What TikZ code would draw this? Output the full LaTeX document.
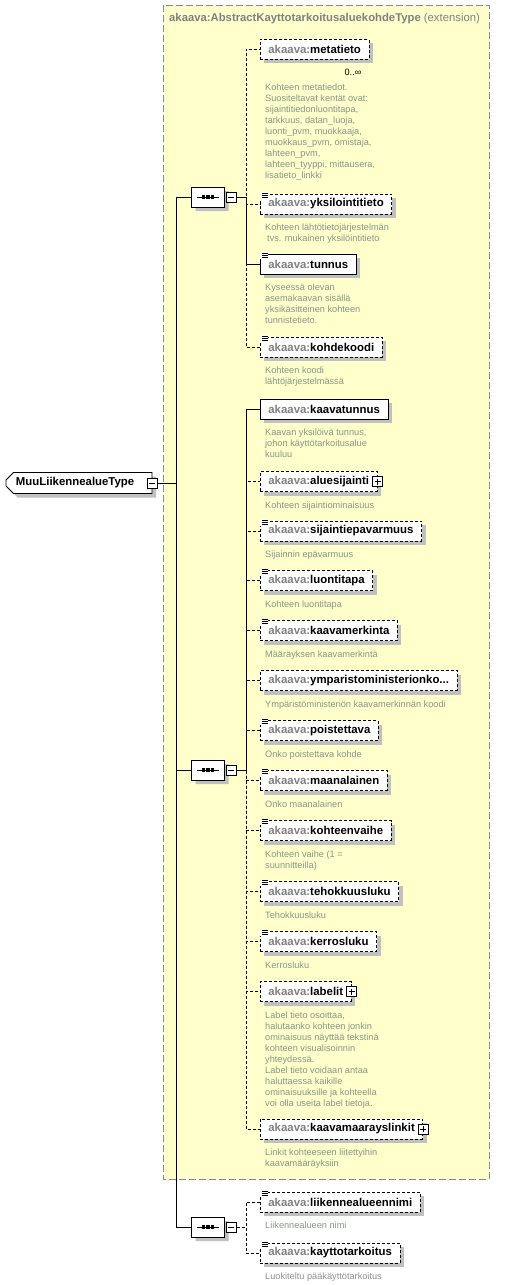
\documentclass[tikz,border=0pt]{standalone}
\usepackage{fontspec}
\setmainfont{Liberation Sans}
\usetikzlibrary{shadows,shapes.misc}
\definecolor{groupfill}{HTML}{FFFFCC}
\definecolor{groupline}{HTML}{8A8A8A}
\definecolor{nsgray}{HTML}{808080}
\definecolor{docgray}{HTML}{869686}
\definecolor{shadowgray}{HTML}{C0C0C0}
\newcommand\akns{\textcolor{nsgray}{akaava:}}
\newcommand\elemfont{\fontsize{11.4}{13}\selectfont\bfseries}
\newcommand\docfont{\fontsize{9.2}{11}\selectfont}
\begin{document}
\begin{tikzpicture}[x=1pt, y=-1pt,
  elem/.style={draw, line width=0.8pt, fill=white, minimum height=20, inner xsep=8, inner ysep=0,
    anchor=west, font=\elemfont,
    drop shadow={fill=shadowgray, opacity=1, shadow xshift=4pt, shadow yshift=-4pt}},
  optelem/.style={elem, dash pattern=on 3pt off 2pt},
  doc/.style={anchor=north west, inner sep=0, align=left, font=\docfont, text=docgray},
  conn/.style={draw, line width=0.8pt},
  optconn/.style={conn, dash pattern=on 3pt off 2pt},
  seqbox/.style={chamfered rectangle, chamfered rectangle xsep=6pt,
    draw, line width=0.8pt, fill=white, minimum width=33, minimum height=20, inner sep=0,
    drop shadow={fill=shadowgray, opacity=1, shadow xshift=4pt, shadow yshift=-4pt}},
  rootbox/.style={chamfered rectangle, chamfered rectangle corners={north west,south west},
    chamfered rectangle xsep=4pt, draw, line width=0.8pt, fill=white, text width=126,
    align=left, minimum height=21, inner xsep=6, inner ysep=0, font=\elemfont,
    drop shadow={fill=shadowgray, opacity=1, shadow xshift=4pt, shadow yshift=-4pt}},
  pmbox/.style={draw, line width=0.8pt, fill=white, minimum size=10, inner sep=0},
  minusbox/.style={pmbox, path picture={
    \draw ([xshift=2pt]path picture bounding box.west) -- ([xshift=-2pt]path picture bounding box.east);}},
  plusbox/.style={pmbox, path picture={
    \draw ([xshift=2pt]path picture bounding box.west) -- ([xshift=-2pt]path picture bounding box.east);
    \draw ([yshift=-2pt]path picture bounding box.north) -- ([yshift=2pt]path picture bounding box.south);}},
  docmark/.pic={
    \fill[white] (0.4,-1.5) rectangle (8,5);
    \draw[line width=0.6pt] (1.5,-0.5) -- (7.5,-0.5) (1.5,1.5) -- (7.5,1.5) (1.5,3.5) -- (7.5,3.5);},
  seqdots/.pic={
    \draw[line width=0.8pt] (-11,0) -- (11,0);
    \foreach \dx in {-4.5,0,4.5} \fill (\dx-1.6,-1.6) rectangle (\dx+1.6,1.6);}
]
\useasboundingbox (0,0) rectangle (532,1285);

% extension group
\draw[groupline, fill=groupfill, line width=0.8pt, dash pattern=on 7pt off 3pt] (163,5) rectangle (489,1179);
\node[anchor=west, inner sep=0, text=nsgray, font=\fontsize{11.3}{13}\selectfont] (ttl) at (169,19)
  {\bfseries akaava:AbstractKayttotarkoitusaluekohdeType \mdseries(extension)};

% root type
\node[rootbox] (root) at (79,483) {MuuLiikennealueType};
\node[minusbox] (rootm) at (root.east) {};

% compositors
\node[seqbox] (s1) at (208,197) {};
\pic at (s1.center) {seqdots};
\node[minusbox, anchor=west] (s1m) at ([xshift=1pt]s1.east) {};
\node[seqbox] (s2) at (208,770) {};
\pic at (s2.center) {seqdots};
\node[minusbox, anchor=west] (s2m) at ([xshift=1pt]s2.east) {};
\node[seqbox] (s3) at (208,1227) {};
\pic at (s3.center) {seqdots};
\node[minusbox, anchor=west] (s3m) at ([xshift=1pt]s3.east) {};

% first sequence
\node[optelem] (meta) at (260,49) {\akns metatieto};
\node[font=\docfont, inner sep=0] (metan) at (353,72) {0..∞};
\node[doc] at (265,84) {Kohteen metatiedot.\\Suositeltavat kentät ovat:\\sijaintitiedonluontitapa,\\
  tarkkuus, datan\_luoja,\\luonti\_pvm, muokkaaja,\\muokkaus\_pvm, omistaja,\\lahteen\_pvm,\\
  lahteen\_tyyppi, mittausera,\\lisatieto\_linkki};
\node[optelem] (yksi) at (260,204) {\akns yksilointitieto};
\pic at (yksi.north west) {docmark};
\node[doc] at (265,224) {Kohteen lähtötietojärjestelmän\\\hspace*{2pt}tvs. mukainen yksilöintitieto};
\node[elem] (tunn) at (260,264) {\akns tunnus};
\pic at (tunn.north west) {docmark};
\node[doc] at (265,284) {Kyseessä olevan\\asemakaavan sisällä\\yksikäsitteinen kohteen\\tunnistetieto.};
\node[optelem] (kohd) at (260,347) {\akns kohdekoodi};
\pic at (kohd.north west) {docmark};
\node[doc] at (265,367) {Kohteen koodi\\lähtöjärjestelmässä};

% second sequence
\node[elem] (kaav) at (260,409) {\akns kaavatunnus};
\node[doc] at (265,429) {Kaavan yksilöivä tunnus,\\johon käyttötarkoitusalue\\kuuluu};
\node[optelem] (alue) at (260,481.5) {\akns aluesijainti\hspace{4pt}};
\node[plusbox] (aluep) at (alue.east) {};
\node[doc] at (265,501.5) {Kohteen sijaintiominaisuus};
\node[optelem] (epav) at (260,531) {\akns sijaintiepavarmuus};
\pic at (epav.north west) {docmark};
\node[doc] at (265,551) {Sijainnin epävarmuus};
\node[optelem] (luon) at (260,580.5) {\akns luontitapa};
\pic at (luon.north west) {docmark};
\node[doc] at (265,600.5) {Kohteen luontitapa};
\node[optelem] (merk) at (260,630.5) {\akns kaavamerkinta};
\pic at (merk.north west) {docmark};
\node[doc] at (265,650.5) {Määräyksen kaavamerkintä};
\node[optelem] (ympa) at (260,680.5) {\akns ymparistoministerionko...};
\node[doc] at (265,700.5) {Ympäristöministeriön kaavamerkinnän koodi};
\node[optelem] (pois) at (260,730.5) {\akns poistettava};
\pic at (pois.north west) {docmark};
\node[doc] at (265,750.5) {Onko poistettava kohde};
\node[optelem] (maan) at (260,780.5) {\akns maanalainen};
\pic at (maan.north west) {docmark};
\node[doc] at (265,800.5) {Onko maanalainen};
\node[optelem] (vaih) at (260,830.5) {\akns kohteenvaihe};
\pic at (vaih.north west) {docmark};
\node[doc] at (265,850.5) {Kohteen vaihe (1 =\\suunnitteilla)};
\node[optelem] (teho) at (260,891.5) {\akns tehokkuusluku};
\pic at (teho.north west) {docmark};
\node[doc] at (265,911.5) {Tehokkuusluku};
\node[optelem] (kerr) at (260,941.5) {\akns kerrosluku};
\pic at (kerr.north west) {docmark};
\node[doc] at (265,961.5) {Kerrosluku};
\node[optelem] (labe) at (260,991.5) {\akns labelit\hspace{4pt}};
\node[plusbox] (labep) at (labe.east) {};
\node[doc] at (265,1011.5) {Label tieto osoittaa,\\halutaanko kohteen jonkin\\ominaisuus näyttää tekstinä\\
  kohteen visualisoinnin\\yhteydessä.\\Label tieto voidaan antaa\\haluttaessa kaikille\\
  ominaisuuksille ja kohteella\\voi olla useita label tietoja.};
\node[optelem] (link) at (260,1129) {\akns kaavamaarayslinkit\hspace{4pt}};
\node[plusbox] (linkp) at (link.east) {};
\node[doc] at (265,1149) {Linkit kohteeseen liitettyihin\\kaavamääräyksiin};

% third sequence
\node[optelem] (nimi) at (260,1202) {\akns liikennealueennimi};
\pic at (nimi.north west) {docmark};
\node[doc] at (265,1222) {Liikennealueen nimi};
\node[optelem] (kayt) at (260,1253) {\akns kayttotarkoitus};
\pic at (kayt.north west) {docmark};
\node[doc] at (265,1272.5) {Luokiteltu pääkäyttötarkoitus};

% connectors
\coordinate (rj) at (176,483);
\draw[conn] (rootm.east) -- (rj) |- (s1.west);
\draw[conn] (rj) |- (s2.west);
\draw[conn] (rj) |- (s3.west);
\coordinate (j1) at (246,197);
\coordinate (j2) at (246,770);
\coordinate (j3) at (246,1227);
\foreach \n in {meta,yksi,kohd} \draw[optconn] (s1m.east) -- (j1) |- (\n.west);
\draw[conn] (s1m.east) -- (j1) |- (tunn.west);
\foreach \n in {alue,epav,luon,merk,ympa,pois,maan,vaih,teho,kerr,labe,link}
  \draw[optconn] (s2m.east) -- (j2) |- (\n.west);
\draw[conn] (s2m.east) -- (j2) |- (kaav.west);
\foreach \n in {nimi,kayt} \draw[optconn] (s3m.east) -- (j3) |- (\n.west);
\end{tikzpicture}
\end{document}
